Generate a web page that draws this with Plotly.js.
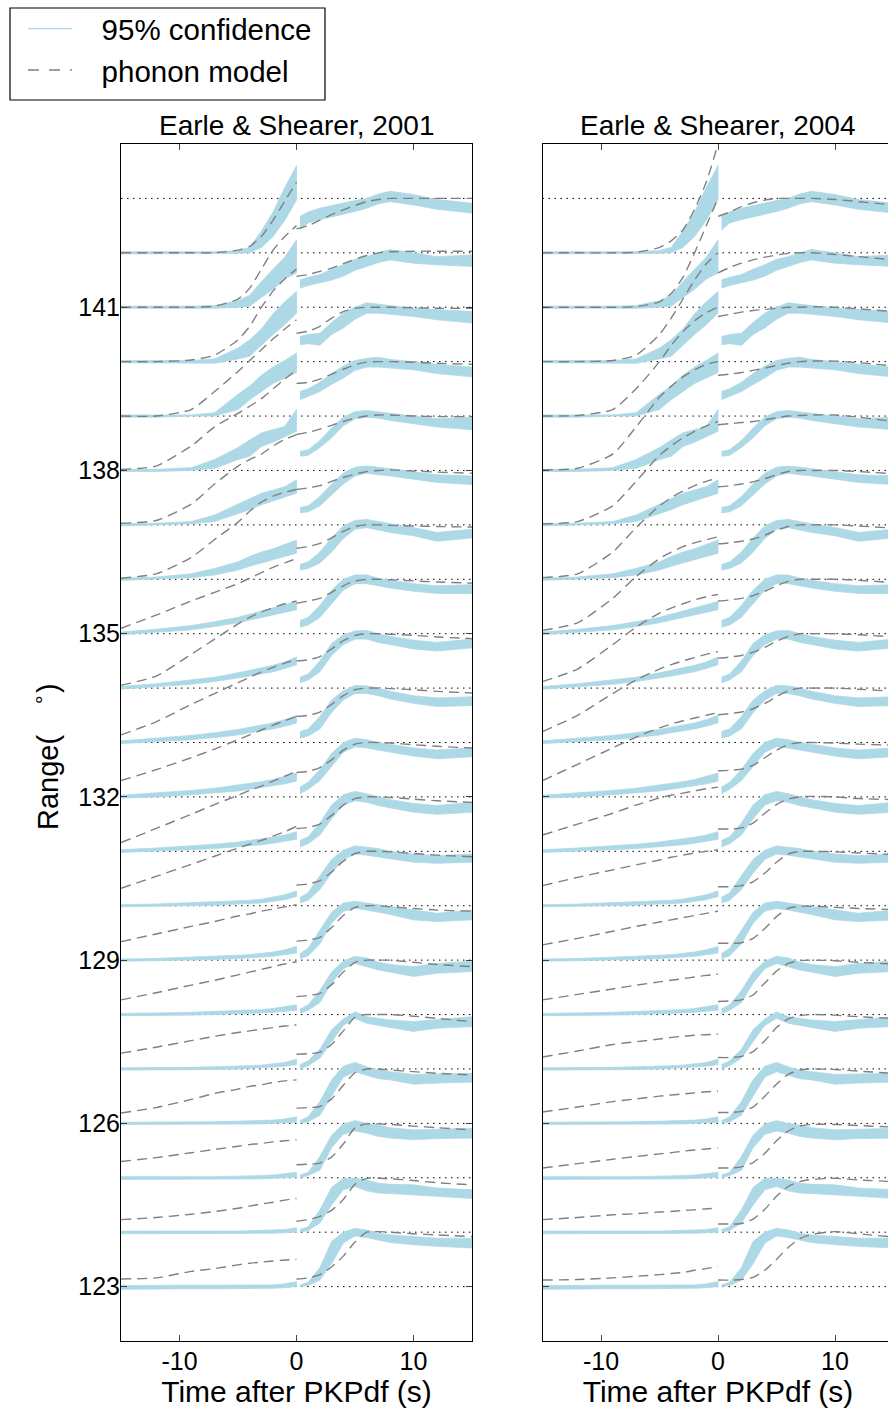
<!DOCTYPE html>
<html><head><meta charset="utf-8">
<script src="https://cdn.plot.ly/plotly-3.0.1.min.js"></script>
<style>html,body{margin:0;padding:0;overflow:hidden;background:#fff}#chart{width:900px;height:1410px}</style>
</head><body><div id="chart"></div>
<script>
// Epicentral ranges (deg) of the stacked traces, and dotted reference levels
const ranges = [123,124,125,126,127,128,129,130,131,132,133,134,135,136,137,138,139,140,141,142];
const levels = [123,124,125,126,127,128,129,130,131,132,133,134,135,136,137,138,139,140,141,142,143];
const xTicks = [-10,0,10];
const yTicks = [123,126,129,132,135,138,141];

// Time samples (s after PKPdf)
const xLeft = [-15,-12,-9,-7,-5,-4,-3,-2,-1,0];
const xRight = [0.3,1,2,3,4,5,6,7,8,10,12,15];
const xModelRight = [0,1,2,3,4,5,6,7,8,10,12,15];

// 95% confidence band (amplitude above each trace's range), before arrival
const bandLeftLow = [
[-0.05,-0.04,-0.04,-0.04,-0.04,-0.03,-0.03,-0.03,-0.02,0.0],
[-0.03,-0.03,-0.03,-0.03,-0.03,-0.02,-0.02,-0.02,-0.01,0.0],
[-0.03,-0.03,-0.03,-0.03,-0.02,-0.02,-0.02,-0.01,0.0,0.01],
[-0.02,-0.02,-0.02,-0.02,-0.02,-0.01,-0.01,0.0,0.01,0.02],
[-0.02,-0.02,-0.02,-0.01,0.0,0.01,0.02,0.03,0.05,0.08],
[-0.02,-0.02,-0.01,0.0,0.01,0.02,0.03,0.04,0.06,0.08],
[-0.02,-0.01,0.0,0.01,0.03,0.04,0.05,0.07,0.1,0.13],
[-0.02,-0.01,0.0,0.01,0.03,0.04,0.05,0.08,0.11,0.17],
[-0.02,0.0,0.03,0.05,0.08,0.1,0.12,0.15,0.18,0.22],
[-0.02,0.0,0.04,0.07,0.11,0.14,0.17,0.2,0.24,0.29],
[-0.02,0.01,0.05,0.09,0.14,0.18,0.21,0.25,0.3,0.36],
[-0.02,0.02,0.07,0.12,0.18,0.22,0.26,0.3,0.36,0.43],
[-0.02,0.02,0.07,0.13,0.2,0.25,0.3,0.34,0.39,0.44],
[-0.02,0.0,0.03,0.08,0.17,0.24,0.3,0.36,0.42,0.48],
[-0.02,0.0,0.02,0.06,0.2,0.28,0.37,0.44,0.52,0.58],
[-0.02,-0.02,0.0,0.04,0.2,0.26,0.44,0.52,0.62,0.72],
[-0.02,-0.02,0.0,0.0,0.12,0.3,0.45,0.6,0.7,0.8],
[-0.02,-0.02,-0.02,-0.03,0.05,0.1,0.3,0.5,0.68,0.89],
[-0.02,-0.02,-0.02,-0.02,0.0,0.02,0.18,0.33,0.52,0.63],
[-0.02,-0.02,-0.02,-0.02,-0.01,0.0,0.1,0.3,0.6,0.97]];
const bandLeftHigh = [
[0.02,0.02,0.02,0.02,0.02,0.02,0.03,0.03,0.05,0.09],
[0.02,0.02,0.02,0.02,0.02,0.03,0.03,0.04,0.05,0.08],
[0.02,0.02,0.02,0.02,0.03,0.03,0.04,0.05,0.07,0.1],
[0.02,0.02,0.03,0.03,0.04,0.04,0.05,0.06,0.08,0.12],
[0.02,0.02,0.03,0.04,0.05,0.06,0.07,0.09,0.12,0.18],
[0.02,0.03,0.04,0.05,0.07,0.08,0.09,0.11,0.14,0.18],
[0.02,0.03,0.05,0.07,0.09,0.1,0.12,0.15,0.19,0.25],
[0.02,0.03,0.05,0.07,0.09,0.1,0.12,0.16,0.2,0.27],
[0.03,0.06,0.1,0.13,0.17,0.2,0.23,0.26,0.3,0.36],
[0.03,0.07,0.12,0.16,0.21,0.25,0.28,0.32,0.38,0.44],
[0.03,0.08,0.13,0.18,0.24,0.28,0.32,0.36,0.42,0.5],
[0.03,0.08,0.15,0.2,0.28,0.32,0.37,0.42,0.48,0.57],
[0.03,0.08,0.15,0.22,0.3,0.36,0.42,0.47,0.53,0.59],
[0.02,0.04,0.1,0.2,0.32,0.42,0.5,0.56,0.64,0.72],
[0.02,0.03,0.06,0.18,0.38,0.48,0.58,0.64,0.7,0.83],
[0.02,0.02,0.05,0.2,0.42,0.56,0.69,0.75,0.81,1.12],
[0.02,0.02,0.02,0.06,0.4,0.55,0.75,0.9,1.02,1.16],
[0.02,0.02,0.02,0.05,0.25,0.4,0.6,0.88,1.1,1.29],
[0.02,0.02,0.02,0.03,0.12,0.22,0.47,0.7,0.92,1.24],
[0.02,0.02,0.02,0.02,0.04,0.1,0.4,0.75,1.2,1.6]];

// 95% confidence band after arrival
const bandRightLow = [
[0.0,0.02,0.12,0.42,0.8,0.93,0.9,0.86,0.81,0.77,0.74,0.71],
[0.0,0.03,0.17,0.5,0.78,0.84,0.76,0.72,0.71,0.69,0.66,0.62],
[0.0,0.04,0.14,0.55,0.8,0.86,0.82,0.76,0.73,0.7,0.72,0.73],
[0.0,0.03,0.15,0.5,0.85,0.95,0.88,0.82,0.8,0.72,0.74,0.76],
[0.0,0.06,0.2,0.5,0.8,0.93,0.84,0.8,0.76,0.69,0.75,0.78],
[0.02,0.08,0.22,0.58,0.84,0.94,0.88,0.82,0.78,0.7,0.76,0.79],
[0.03,0.08,0.3,0.68,0.9,0.95,0.92,0.88,0.84,0.74,0.71,0.74],
[0.05,0.1,0.3,0.6,0.85,0.95,0.93,0.9,0.86,0.8,0.78,0.8],
[0.08,0.14,0.3,0.6,0.85,0.93,0.9,0.84,0.8,0.72,0.68,0.72],
[0.06,0.14,0.3,0.55,0.82,0.92,0.9,0.86,0.82,0.75,0.7,0.74],
[0.08,0.12,0.25,0.55,0.78,0.9,0.9,0.86,0.8,0.72,0.66,0.68],
[0.1,0.15,0.3,0.6,0.8,0.9,0.9,0.84,0.8,0.72,0.68,0.74],
[0.12,0.16,0.3,0.55,0.8,0.92,0.92,0.88,0.84,0.78,0.74,0.74],
[0.17,0.2,0.3,0.5,0.75,0.92,0.95,0.9,0.86,0.8,0.7,0.76],
[0.22,0.24,0.35,0.55,0.75,0.9,0.95,0.92,0.9,0.84,0.78,0.74],
[0.26,0.28,0.42,0.6,0.82,0.95,0.98,0.96,0.92,0.86,0.8,0.75],
[0.3,0.36,0.45,0.58,0.7,0.84,0.9,0.9,0.88,0.85,0.78,0.72],
[0.31,0.33,0.3,0.5,0.62,0.78,0.89,0.89,0.87,0.83,0.77,0.71],
[0.35,0.4,0.45,0.5,0.57,0.68,0.75,0.82,0.87,0.81,0.78,0.75],
[0.42,0.55,0.61,0.66,0.7,0.76,0.82,0.9,0.94,0.88,0.8,0.73]];
const bandRightHigh = [
[0.03,0.08,0.35,0.83,1.0,1.07,1.04,0.98,0.95,0.92,0.89,0.89],
[0.05,0.1,0.41,0.82,0.99,0.99,0.96,0.9,0.88,0.87,0.81,0.78],
[0.05,0.1,0.39,0.78,0.99,1.05,1.0,0.97,0.92,0.88,0.9,0.91],
[0.05,0.12,0.4,0.8,1.05,1.12,1.04,0.98,0.95,0.9,0.9,0.92],
[0.08,0.15,0.36,0.72,0.92,1.05,0.96,0.93,0.9,0.87,0.9,0.96],
[0.1,0.18,0.44,0.78,0.98,1.07,1.04,0.96,0.92,0.88,0.94,0.98],
[0.12,0.22,0.55,0.88,1.05,1.08,1.05,1.02,0.98,0.92,0.86,0.92],
[0.15,0.24,0.55,0.85,1.02,1.1,1.08,1.05,1.0,0.95,0.92,0.95],
[0.2,0.27,0.52,0.85,1.04,1.1,1.06,1.0,0.95,0.88,0.84,0.9],
[0.18,0.27,0.5,0.8,1.0,1.08,1.05,1.0,0.97,0.9,0.86,0.9],
[0.2,0.25,0.48,0.78,0.95,1.05,1.04,1.0,0.94,0.86,0.82,0.84],
[0.2,0.26,0.5,0.82,0.98,1.05,1.06,1.0,0.95,0.88,0.84,0.9],
[0.24,0.3,0.52,0.8,1.0,1.08,1.08,1.02,0.98,0.92,0.88,0.9],
[0.27,0.32,0.5,0.76,0.98,1.08,1.1,1.06,1.02,0.95,0.86,0.92],
[0.32,0.35,0.52,0.75,0.95,1.06,1.08,1.06,1.04,0.98,0.92,0.9],
[0.35,0.38,0.55,0.78,0.98,1.08,1.1,1.08,1.06,1.0,0.95,0.98],
[0.45,0.5,0.62,0.78,0.92,1.02,1.06,1.08,1.04,1.0,0.95,0.9],
[0.46,0.5,0.52,0.72,0.89,1.0,1.08,1.05,1.03,0.98,0.95,0.92],
[0.5,0.55,0.6,0.7,0.78,0.88,0.93,1.0,1.06,1.0,0.93,0.96],
[0.67,0.75,0.82,0.87,0.91,0.96,1.0,1.08,1.13,1.07,0.98,0.91]];

// Phonon model, Earle & Shearer 2001 (left panel)
const model2001Left = [
[0.14,0.16,0.28,0.33,0.4,0.43,0.45,0.47,0.49,0.5],
[0.23,0.27,0.33,0.38,0.44,0.48,0.52,0.55,0.59,0.62],
[0.3,0.37,0.46,0.52,0.58,0.61,0.63,0.66,0.68,0.7],
[0.19,0.29,0.44,0.55,0.63,0.68,0.71,0.75,0.78,0.8],
[0.29,0.4,0.52,0.6,0.67,0.7,0.73,0.76,0.79,0.81],
[0.27,0.4,0.54,0.63,0.73,0.78,0.83,0.88,0.93,0.97],
[0.34,0.48,0.62,0.71,0.81,0.85,0.9,0.94,0.98,1.02],
[0.32,0.54,0.76,0.91,1.06,1.13,1.2,1.28,1.36,1.46],
[0.16,0.42,0.68,0.86,1.03,1.12,1.2,1.29,1.38,1.47],
[0.3,0.5,0.72,0.88,1.05,1.14,1.23,1.32,1.4,1.48],
[0.14,0.38,0.7,0.9,1.1,1.2,1.3,1.38,1.46,1.52],
[0.05,0.22,0.62,0.9,1.18,1.3,1.4,1.48,1.55,1.6],
[0.1,0.34,0.6,0.76,0.92,1.02,1.12,1.22,1.3,1.38],
[0.02,0.1,0.4,0.73,1.05,1.25,1.42,1.53,1.6,1.65],
[0.03,0.08,0.38,0.75,1.08,1.2,1.3,1.45,1.57,1.66],
[0.02,0.08,0.45,0.8,1.05,1.18,1.32,1.5,1.68,1.85],
[0.0,0.0,0.12,0.45,0.82,1.02,1.22,1.42,1.6,1.77],
[0.0,0.0,0.03,0.12,0.4,0.65,1.0,1.3,1.52,1.7],
[0.0,0.0,0.0,0.02,0.15,0.35,0.7,1.05,1.3,1.5],
[0.0,0.0,0.0,0.0,0.05,0.12,0.3,0.6,0.95,1.3]];
const model2001Right = [
[0.14,0.16,0.22,0.36,0.56,0.82,1.0,1.01,1.0,0.97,0.95,0.92],
[0.2,0.23,0.29,0.4,0.6,0.88,0.99,0.99,0.98,0.95,0.91,0.87],
[0.24,0.25,0.27,0.38,0.62,0.92,0.99,0.99,0.98,0.95,0.92,0.88],
[0.28,0.29,0.31,0.45,0.7,0.93,1.0,1.0,0.98,0.95,0.92,0.89],
[0.27,0.28,0.31,0.45,0.7,0.95,1.0,1.0,1.0,0.97,0.93,0.87],
[0.33,0.35,0.39,0.55,0.78,0.96,1.0,1.0,1.0,0.96,0.92,0.88],
[0.35,0.37,0.42,0.6,0.82,0.97,1.0,1.0,0.98,0.95,0.92,0.9],
[0.38,0.4,0.46,0.62,0.82,0.96,1.0,1.0,0.99,0.96,0.93,0.9],
[0.42,0.44,0.5,0.66,0.85,0.97,1.0,1.0,0.99,0.96,0.93,0.9],
[0.45,0.47,0.54,0.68,0.86,0.97,1.0,1.0,0.99,0.96,0.93,0.9],
[0.48,0.5,0.56,0.7,0.86,0.97,1.0,1.0,0.99,0.97,0.94,0.91],
[0.5,0.52,0.58,0.72,0.87,0.97,1.0,1.0,0.99,0.97,0.94,0.91],
[0.56,0.6,0.65,0.76,0.88,0.97,1.0,1.0,0.99,0.97,0.95,0.93],
[0.57,0.6,0.66,0.76,0.88,0.97,1.0,1.0,0.99,0.98,0.97,0.96],
[0.65,0.68,0.72,0.8,0.87,0.93,0.98,1.0,1.01,0.99,0.97,0.95],
[0.66,0.7,0.76,0.83,0.9,0.96,1.0,1.02,1.02,1.0,0.99,0.99],
[0.6,0.62,0.68,0.77,0.86,0.94,0.99,1.0,1.0,0.99,0.97,0.95],
[0.52,0.56,0.65,0.8,0.92,0.98,1.0,1.0,1.0,0.99,0.98,0.98],
[0.57,0.6,0.66,0.72,0.8,0.88,0.95,1.0,1.02,1.03,1.03,1.03],
[0.44,0.5,0.6,0.7,0.79,0.87,0.94,0.98,1.0,1.0,1.0,1.0]];

// Phonon model, Earle & Shearer 2004 (right panel)
const model2004Left = [
[0.12,0.13,0.16,0.19,0.22,0.24,0.26,0.3,0.33,0.37],
[0.23,0.27,0.32,0.34,0.37,0.38,0.4,0.41,0.43,0.44],
[0.18,0.26,0.34,0.39,0.44,0.46,0.49,0.51,0.53,0.55],
[0.21,0.3,0.4,0.45,0.5,0.52,0.54,0.56,0.58,0.59],
[0.22,0.33,0.45,0.5,0.55,0.58,0.6,0.62,0.63,0.64],
[0.27,0.37,0.47,0.54,0.6,0.63,0.66,0.69,0.72,0.74],
[0.28,0.4,0.53,0.62,0.7,0.74,0.78,0.82,0.86,0.9],
[0.37,0.52,0.66,0.75,0.84,0.89,0.93,0.97,1.0,1.03],
[0.3,0.5,0.7,0.85,0.98,1.03,1.07,1.11,1.15,1.18],
[0.3,0.6,0.9,1.1,1.27,1.34,1.4,1.45,1.5,1.55],
[0.2,0.5,0.9,1.15,1.35,1.43,1.5,1.56,1.62,1.67],
[0.12,0.35,0.8,1.12,1.38,1.47,1.55,1.62,1.68,1.72],
[0.06,0.2,0.65,1.05,1.38,1.5,1.6,1.67,1.73,1.78],
[0.03,0.1,0.5,0.95,1.35,1.5,1.62,1.72,1.8,1.86],
[0.02,0.06,0.35,0.8,1.28,1.45,1.6,1.72,1.82,1.9],
[0.01,0.04,0.3,0.8,1.35,1.55,1.72,1.85,1.95,2.0],
[0.0,0.01,0.12,0.5,1.0,1.3,1.55,1.75,1.9,2.0],
[0.0,0.0,0.02,0.12,0.5,0.8,1.15,1.5,1.8,2.0],
[0.0,0.0,0.0,0.01,0.1,0.25,0.55,1.0,1.5,2.0],
[0.0,0.0,0.0,0.01,0.1,0.22,0.42,0.8,1.3,2.0]];
const model2004Right = [
[0.12,0.12,0.13,0.17,0.3,0.5,0.72,0.88,0.96,1.01,0.97,0.91],
[0.15,0.15,0.16,0.24,0.42,0.66,0.84,0.93,0.97,0.99,0.96,0.93],
[0.18,0.18,0.2,0.28,0.45,0.68,0.86,0.95,0.98,0.98,0.96,0.93],
[0.2,0.2,0.22,0.3,0.5,0.72,0.9,0.98,1.0,0.99,0.96,0.92],
[0.21,0.21,0.23,0.32,0.52,0.76,0.92,0.98,1.0,0.99,0.96,0.93],
[0.24,0.25,0.27,0.36,0.58,0.8,0.94,0.99,1.0,0.99,0.96,0.93],
[0.31,0.31,0.32,0.4,0.58,0.8,0.95,0.99,0.99,0.97,0.95,0.93],
[0.35,0.35,0.37,0.44,0.6,0.8,0.95,1.0,1.0,0.99,0.97,0.94],
[0.41,0.41,0.43,0.52,0.7,0.86,0.96,1.0,1.01,1.0,0.97,0.95],
[0.48,0.49,0.51,0.58,0.72,0.86,0.96,1.0,1.0,0.99,0.97,0.95],
[0.51,0.53,0.56,0.62,0.72,0.84,0.95,1.0,1.0,1.0,0.98,0.94],
[0.55,0.57,0.6,0.66,0.75,0.86,0.95,1.0,1.0,1.0,0.98,0.94],
[0.6,0.62,0.65,0.7,0.78,0.88,0.96,1.0,1.0,1.0,0.98,0.94],
[0.65,0.67,0.7,0.74,0.81,0.9,0.97,1.0,1.0,1.0,0.98,0.94],
[0.7,0.72,0.75,0.79,0.85,0.92,0.98,1.0,1.0,1.0,0.98,0.94],
[0.84,0.86,0.88,0.9,0.93,0.97,1.0,1.01,1.02,1.02,0.98,0.9],
[0.75,0.77,0.8,0.84,0.88,0.93,0.97,1.0,1.01,1.01,0.98,0.92],
[0.83,0.87,0.91,0.94,0.96,0.98,1.0,1.0,1.01,1.0,0.97,0.92],
[0.63,0.73,0.81,0.87,0.92,0.96,0.99,1.0,1.0,0.97,0.93,0.87],
[0.67,0.75,0.85,0.92,0.97,1.0,1.0,1.0,1.0,0.98,0.94,0.88]];

const BAND = 'rgb(173,216,230)';
const MODEL = 'rgb(128,128,128)';
const FONT = 'Liberation Sans, Arial, sans-serif';
const DASH = '10px,6px';
const NB = '\u00a0\u00a0\u00a0';

const traces = [];
// legend entries
traces.push({x:[-100,-99], y:[0,0], xaxis:'x', yaxis:'y', mode:'lines', name:NB + '95% confidence',
  legendgroup:'a', line:{color:BAND, width:1.2}, hoverinfo:'skip'});
traces.push({x:[-100,-99], y:[0,0], xaxis:'x', yaxis:'y', mode:'lines', name:NB + 'phonon model',
  legendgroup:'b', line:{color:MODEL, width:1.4, dash:'11px,10px'}, hoverinfo:'skip'});

const panels = [
  {xa:'x', ya:'y', L:model2001Left, R:model2001Right},
  {xa:'x2', ya:'y2', L:model2004Left, R:model2004Right}
];
function closed(xs, lo, hi, base) {
  const x = xs.concat(xs.slice().reverse());
  const y = lo.map(v => base + v).concat(hi.map(v => base + v).reverse());
  return {x, y};
}
panels.forEach(p => {
  levels.forEach(lv => {
    traces.push({x:[-15,15], y:[lv,lv], xaxis:p.xa, yaxis:p.ya, mode:'lines', showlegend:false,
      line:{color:'black', width:1, dash:'1.5px,4.5px'}, hoverinfo:'skip'});
  });
  ranges.forEach((r, i) => {
    const a = closed(xLeft, bandLeftLow[i], bandLeftHigh[i], r);
    traces.push({x:a.x, y:a.y, xaxis:p.xa, yaxis:p.ya, mode:'lines', fill:'toself', fillcolor:BAND,
      line:{color:BAND, width:0.8}, showlegend:false, hoverinfo:'skip'});
    const b = closed(xRight, bandRightLow[i], bandRightHigh[i], r);
    traces.push({x:b.x, y:b.y, xaxis:p.xa, yaxis:p.ya, mode:'lines', fill:'toself', fillcolor:BAND,
      line:{color:BAND, width:0.8}, showlegend:false, hoverinfo:'skip'});
  });
  ranges.forEach((r, i) => {
    traces.push({x:xLeft, y:p.L[i].map(v => r + v), xaxis:p.xa, yaxis:p.ya, mode:'lines', showlegend:false,
      line:{color:MODEL, width:1.4, dash:DASH, shape:'spline', smoothing:0.6}, hoverinfo:'skip'});
    traces.push({x:xModelRight, y:p.R[i].map(v => r + v), xaxis:p.xa, yaxis:p.ya, mode:'lines', showlegend:false,
      line:{color:MODEL, width:1.4, dash:DASH, shape:'spline', smoothing:0.6}, hoverinfo:'skip'});
  });
});

const axBase = {range:[-15,15], tickvals:xTicks, ticktext:xTicks.map(String), ticks:'inside', ticklen:6,
  mirror:'ticks', showline:true, linecolor:'black', linewidth:1, showgrid:false, zeroline:false,
  tickfont:{size:25, family:FONT, color:'black'}, ticklabelstandoff:-2,
  title:{text:'Time after PKPdf (s)', font:{size:30, family:FONT, color:'black'}, standoff:0}};
const ayBase = {range:[122,144], tickvals:yTicks, ticks:'inside', ticklen:6, mirror:'ticks', showline:true,
  linecolor:'black', linewidth:1, showgrid:false, zeroline:false, domain:[69/1410, 1266/1410],
  tickfont:{size:25, family:FONT, color:'black'}, ticklabelstandoff:-5};

const layout = {
  width:900, height:1410, margin:{l:0, r:0, t:0, b:0},
  paper_bgcolor:'white', plot_bgcolor:'white',
  font:{family:FONT, size:25, color:'black'},
  xaxis:Object.assign({}, axBase, {domain:[121/900, 472/900], anchor:'y'}),
  xaxis2:Object.assign({}, axBase, {domain:[542.5/900, 893.5/900], anchor:'y2'}),
  yaxis:Object.assign({}, ayBase, {anchor:'x'}),
  yaxis2:Object.assign({}, ayBase, {anchor:'x2', showticklabels:false}),
  showlegend:true,
  legend:{x:23/900, y:1-3/1410, xanchor:'left', yanchor:'top', borderwidth:0,
    bgcolor:'rgba(0,0,0,0)', font:{size:29.5, family:FONT, color:'black'}, tracegroupgap:0, itemwidth:44},
  shapes:[
    {type:'rect', xref:'paper', yref:'paper', x0:10/900, x1:325/900, y0:1-100/1410, y1:1-8/1410,
     line:{color:'black', width:1.2}, fillcolor:'rgba(0,0,0,0)', layer:'above'}
  ],
  annotations:[
    {text:'Earle & Shearer, 2001', xref:'x domain', yref:'y domain', x:0.5, y:1, xanchor:'center', yanchor:'bottom',
     yshift:1, showarrow:false, font:{size:28, family:FONT, color:'black'}},
    {text:'Earle & Shearer, 2004', xref:'x2 domain', yref:'y2 domain', x:0.5, y:1, xanchor:'center', yanchor:'bottom',
     yshift:1, showarrow:false, font:{size:28, family:FONT, color:'black'}},
    {text:'Range(\u2003<sup>∘</sup>)', xref:'paper', yref:'paper', x:46/900, y:1-757/1410, xanchor:'center', yanchor:'middle',
     textangle:-90, showarrow:false, font:{size:29, family:FONT, color:'black'}}
  ]
};
Plotly.newPlot('chart', traces, layout, {staticPlot:true, displayModeBar:false});
</script></body></html>
